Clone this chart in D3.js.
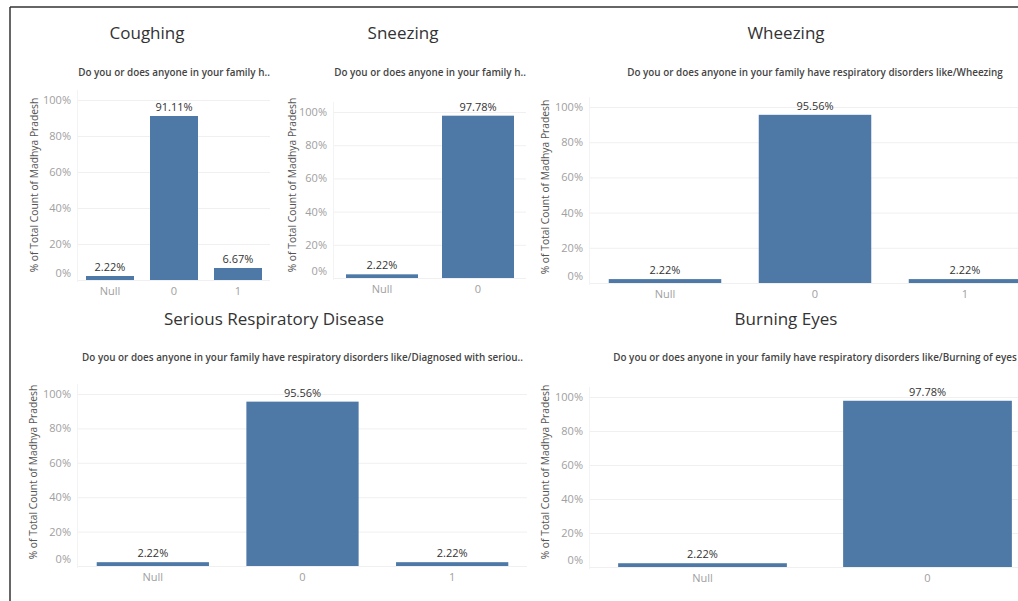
<!DOCTYPE html>
<html>
<head>
<meta charset="utf-8">
<script src="https://cdn.jsdelivr.net/npm/d3@7"></script>
<style>
  body { margin: 0; background: #fff; }
  svg { display: block; }
</style>
</head>
<body>
<script>
// data
const titles = ['Coughing', 'Sneezing', 'Wheezing', 'Serious Respiratory Disease', 'Burning Eyes']
const subtitles = [
    'Do you or does anyone in your family h..',
    'Do you or does anyone in your family h..',
    'Do you or does anyone in your family have respiratory disorders like/Wheezing',
    'Do you or does anyone in your family have respiratory disorders like/Diagnosed with seriou..',
    'Do you or does anyone in your family have respiratory disorders like/Burning of eyes'
]
const categories = [['Null', '0', '1'], ['Null', '0'], ['Null', '0', '1'], ['Null', '0', '1'], ['Null', '0']]
const values = [[2.22, 91.11, 6.67], [2.22, 97.78], [2.22, 95.56, 2.22], [2.22, 95.56, 2.22], [2.22, 97.78]]
const yTicks = [0, 20, 40, 60, 80, 100]
const yLabel = '% of Total Count of Madhya Pradesh'

// where each sheet sits in the dashboard
const panels = [
    { cx: 147, titleY: 39, subY: 76, x0: 78, x1: 270, y0: 280, y1: 100, labX: 34, labY: 185 },
    { cx: 403, titleY: 39, subY: 76, x0: 334, x1: 526, y0: 278, y1: 112, labX: 292, labY: 185 },
    { cx: 786, titleY: 39, subY: 76, x0: 590, x1: 1040, y0: 283, y1: 107, labX: 545, labY: 187 },
    { cx: 274, titleY: 325, subY: 361, x0: 78, x1: 527, y0: 566, y1: 394, labX: 33, labY: 472 },
    { cx: 786, titleY: 325, subY: 361, x0: 590, x1: 1040, y0: 567, y1: 397, labX: 545, labY: 472 }
]

const W = 1018, H = 601
const barColor = '#4e79a7'
const font = '"Open Sans", sans-serif'

let svg = d3.select('body').append('svg')
    .attr('width', W)
    .attr('height', H)
    .style('font-family', font)

panels.forEach((p, i) => {
    let g = svg.append('g')

    g.append('text')
        .attr('x', p.cx).attr('y', p.titleY)
        .attr('text-anchor', 'middle')
        .attr('font-size', 17)
        .attr('fill', '#333')
        .text(titles[i])

    g.append('text')
        .attr('x', (p.x0 + p.x1) / 2).attr('y', p.subY)
        .attr('text-anchor', 'middle')
        .attr('font-size', 9.9)
        .attr('font-weight', 600)
        .attr('fill', '#444')
        .text(subtitles[i])

    let x = d3.scaleBand()
        .domain(categories[i])
        .range([p.x0, p.x1])
        .paddingInner(0.25)
        .paddingOuter(0.125)

    let y = d3.scaleLinear()
        .domain([0, 100])
        .range([p.y0, p.y1])

    // grid
    g.append('g').selectAll('line')
        .data(yTicks)
        .join('line')
        .attr('x1', p.x0).attr('x2', p.x1)
        .attr('y1', d => y(d) + 0.5).attr('y2', d => y(d) + 0.5)
        .attr('stroke', '#f0f0f0')
    g.append('line')
        .attr('x1', p.x0 - 0.5).attr('x2', p.x0 - 0.5)
        .attr('y1', p.y1 - 10).attr('y2', p.y0 + 2)
        .attr('stroke', '#f3f3f3')

    // y axis
    let ya = g.append('g')
        .attr('transform', `translate(${p.x0 - 4},0)`)
        .call(d3.axisLeft(y).tickValues(yTicks).tickFormat(d => d + '%').tickSize(0))
    ya.select('.domain').remove()
    ya.selectAll('text')
        .attr('font-family', font)
        .attr('font-size', 11)
        .attr('fill', '#a0a0a0')
        .attr('dy', d => d === 0 ? '-0.3em' : '0.32em')

    g.append('text')
        .attr('transform', `translate(${p.labX},${p.labY}) rotate(-90)`)
        .attr('text-anchor', 'middle')
        .attr('dy', '0.35em')
        .attr('font-size', 10.3)
        .attr('fill', '#555')
        .text(yLabel)

    // x axis
    let xa = g.append('g')
        .attr('transform', `translate(0,${p.y0 + 4})`)
        .call(d3.axisBottom(x).tickSize(0))
    xa.select('.domain').remove()
    xa.selectAll('text')
        .attr('font-family', font)
        .attr('font-size', 11)
        .attr('fill', '#a0a0a0')

    let rows = categories[i].map((c, j) => ({ cat: c, val: values[i][j] }))

    g.append('g').selectAll('rect')
        .data(rows)
        .join('rect')
        .attr('x', d => x(d.cat))
        .attr('width', x.bandwidth())
        .attr('y', d => y(d.val))
        .attr('height', d => y(0) - y(d.val))
        .attr('fill', barColor)

    g.append('g').selectAll('text')
        .data(rows)
        .join('text')
        .attr('x', d => x(d.cat) + x.bandwidth() / 2)
        .attr('y', d => y(d.val) - 5)
        .attr('text-anchor', 'middle')
        .attr('font-size', 11)
        .attr('fill', '#333')
        .text(d => d.val.toFixed(2) + '%')
})

// dashboard frame
svg.append('line')
    .attr('x1', 10).attr('x2', W)
    .attr('y1', 7).attr('y2', 7)
    .attr('stroke', '#333').attr('stroke-width', 1.5)
svg.append('line')
    .attr('x1', 10).attr('x2', 10)
    .attr('y1', 7).attr('y2', H)
    .attr('stroke', '#333').attr('stroke-width', 1.5)
</script>
</body>
</html>
